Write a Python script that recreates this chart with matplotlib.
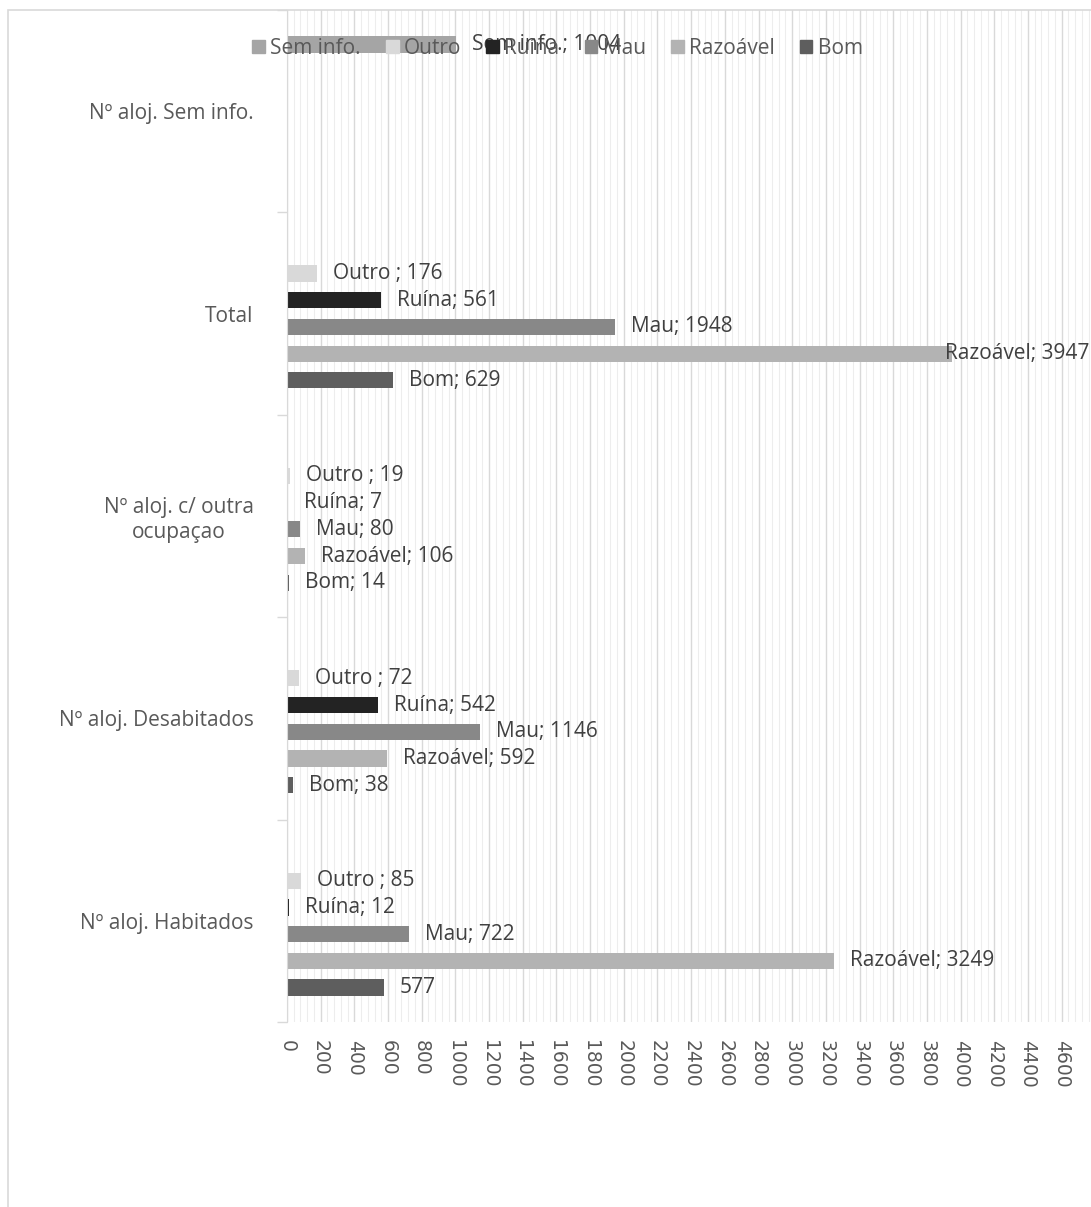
import matplotlib
matplotlib.use("Agg")
import matplotlib.pyplot as plt
from matplotlib.patches import Patch, Rectangle
from matplotlib.ticker import MultipleLocator, FixedLocator
import numpy as np

plt.rcParams['font.family'] = ['Open Sans', 'DejaVu Sans']

# categories, bottom to top
categories = ["Nº aloj. Habitados", "Nº aloj. Desabitados",
              "Nº aloj. c/ outra\nocupaçao", "Total", "Nº aloj. Sem info."]
# series, bottom to top inside each group
series = ["Bom", "Razoável", "Mau", "Ruína", "Outro ", "Sem info."]
legend_names = ["Sem info.", "Outro", "Ruína", "Mau", "Razoável", "Bom"]
colors = {"Bom": "#5E5E5E", "Razoável": "#B3B3B3", "Mau": "#888888",
          "Ruína": "#232323", "Outro ": "#D9D9D9", "Sem info.": "#A5A5A5"}
values = {
    "Bom":       [577, 38, 14, 629, 0],
    "Razoável":  [3249, 592, 106, 3947, 0],
    "Mau":       [722, 1146, 80, 1948, 0],
    "Ruína":     [12, 542, 7, 561, 0],
    "Outro ":    [85, 72, 19, 176, 0],
    "Sem info.": [0, 0, 0, 0, 1004],
}

FS = 15

fig = plt.figure(figsize=(10.91, 12.07), dpi=100)
ax = fig.add_axes([0.263, 0.1533, 0.741, 0.8384])

step = 0.132
height = 0.08
y = np.arange(len(categories))
for i, s in enumerate(series):
    pos = y + (i - 2.5) * step
    ax.barh(pos, values[s], height=height, color=colors[s], zorder=2)
    for j, v in enumerate(values[s]):
        if v == 0:
            continue
        txt = f"{s}; {v}"
        if s == "Bom" and j == 0:
            txt = f"{v}"
        off = 11.5
        if v > 3800:
            off = -5
        ax.annotate(txt, (v, pos[j]), xytext=(off, 0), textcoords="offset points",
                    va="center", ha="left", fontsize=FS, color="#404040",
                    zorder=5, annotation_clip=False)

ax.set_xlim(0, 4800)
ax.set_ylim(-0.5, len(categories) - 0.5)
ax.xaxis.set_major_locator(MultipleLocator(200))
ax.xaxis.set_minor_locator(MultipleLocator(40))
ax.grid(axis="x", which="major", color="#D9D9D9", lw=1.0, zorder=0)
ax.grid(axis="x", which="minor", color="#EDEDED", lw=0.8, zorder=0)
ax.tick_params(axis="x", which="both", length=0, labelsize=13.5,
               labelcolor="#595959", pad=13, labelrotation=-90)
for lab in ax.get_xticklabels():
    lab.set_fontfamily("DejaVu Sans")
    lab.set_va("top")

ax.set_yticks(y)
ax.set_yticklabels(categories, fontsize=FS, color="#595959",
                   multialignment="center")
ax.yaxis.set_minor_locator(FixedLocator(np.arange(-0.5, len(categories), 1)))
ax.tick_params(axis="y", which="major", length=0, pad=24)
ax.tick_params(axis="y", which="minor", length=7, color="#D9D9D9", width=1)
for sp in ["top", "right", "bottom"]:
    ax.spines[sp].set_visible(False)
ax.spines["left"].set_color("#D9D9D9")

handles = [Patch(color=colors["Outro " if n == "Outro" else n], label=n)
           for n in legend_names]
leg = fig.legend(handles=handles, loc="center left",
                 bbox_to_anchor=(248 / 1091, 0.960),
                 ncol=6, frameon=False, fontsize=FS, handlelength=0.62,
                 handleheight=0.62, handletextpad=0.25, columnspacing=1.2,
                 borderpad=0.2, borderaxespad=0)
for t in leg.get_texts():
    t.set_color("#595959")
leg.set_zorder(10)

# chart border
fig.patches.append(Rectangle((8 / 1091, -0.01), 1.1, 1 - 10 / 1207 + 0.01,
                             transform=fig.transFigure, fill=False,
                             edgecolor="#D9D9D9", lw=1.2))

fig.savefig("out.png", dpi=100)
